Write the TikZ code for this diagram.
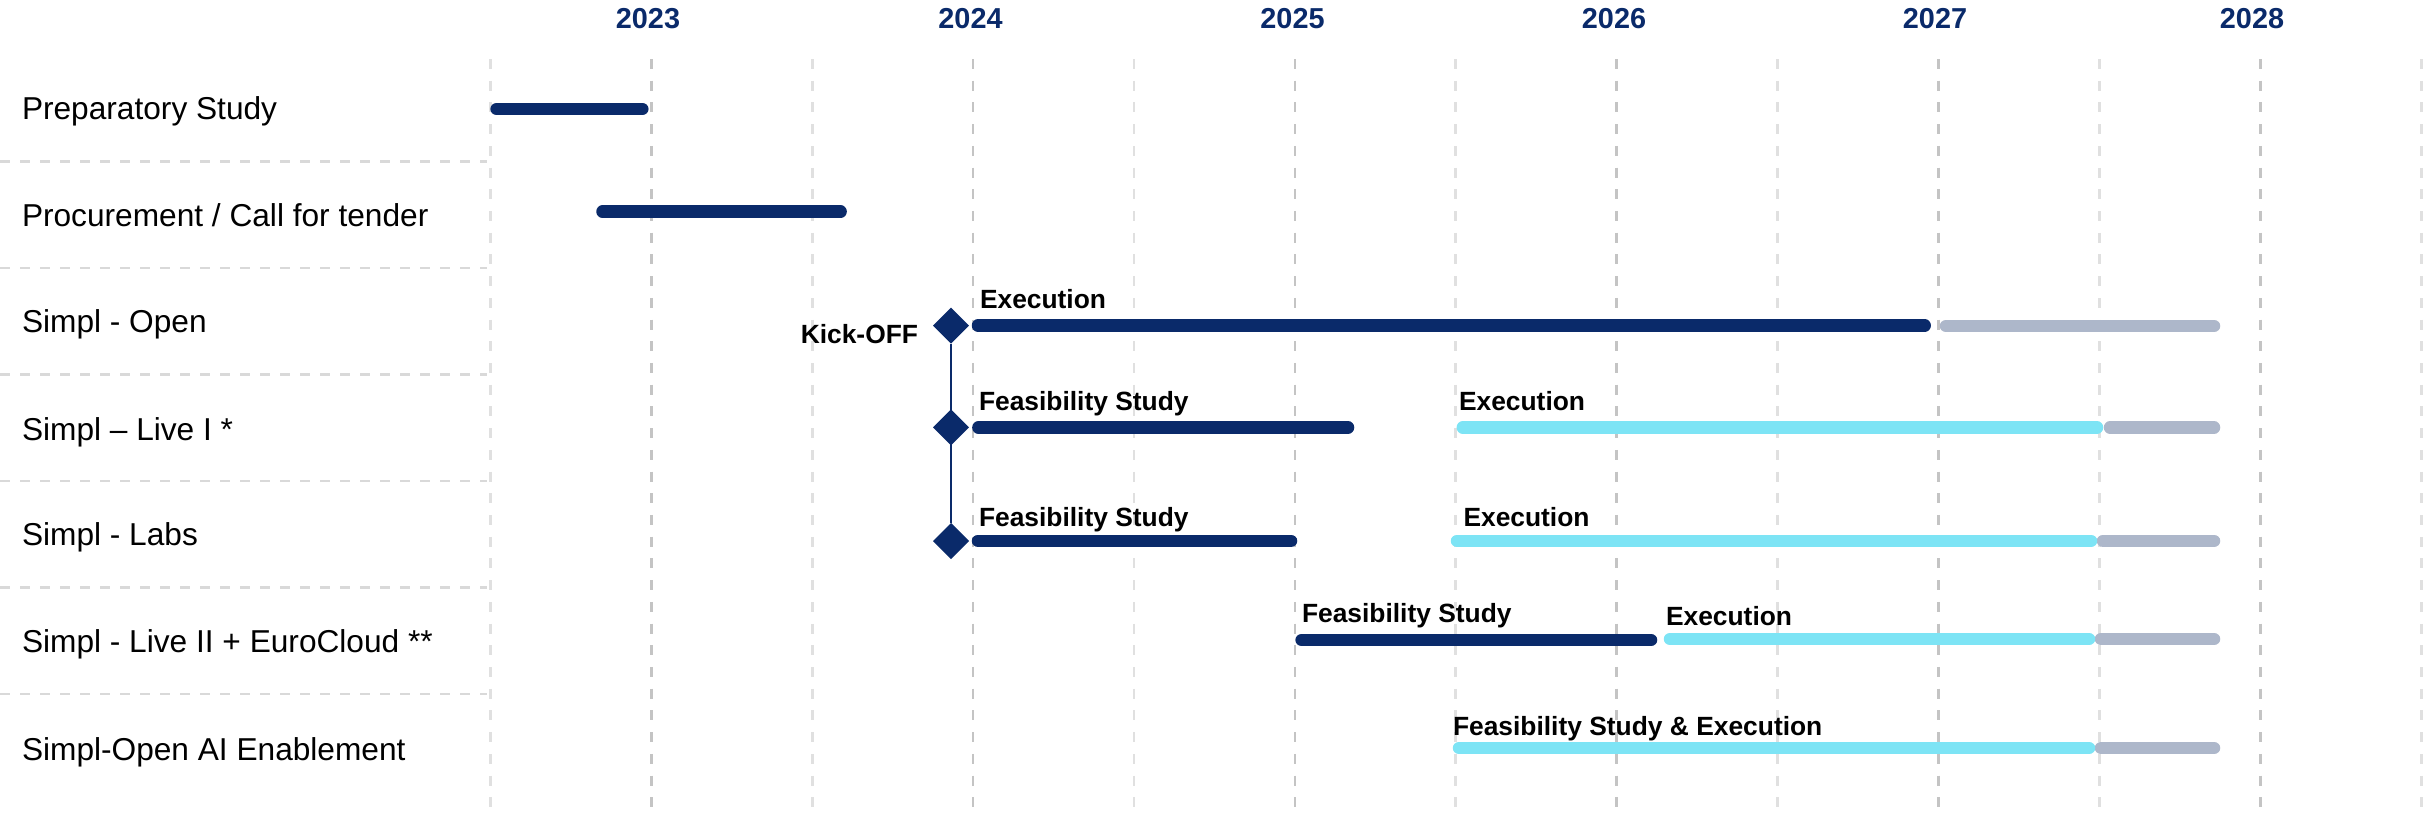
\documentclass[tikz,border=0pt]{standalone}
\usepackage{fontspec}
\setmainfont{Liberation Sans}
\usetikzlibrary{shapes.geometric}
\definecolor{barnavy}{RGB}{10,42,106}
\definecolor{barcyan}{RGB}{125,228,245}
\definecolor{bargrey}{RGB}{173,183,202}
\definecolor{gridmajor}{RGB}{196,196,196}
\definecolor{gridminor}{RGB}{224,224,224}
\definecolor{rowline}{RGB}{217,217,217}

\begin{document}
\begin{tikzpicture}[x=0.01cm, y=-0.01cm,
        every node/.style={inner sep=0pt, outer sep=0pt},
        year/.style={anchor=base, text=barnavy, font=\fontsize{8.2}{10}\selectfont\bfseries},
        task/.style={anchor=base west, font=\fontsize{9}{11}\selectfont},
        phase/.style={anchor=base west, font=\fontsize{7.5}{9}\selectfont\bfseries},
        grid/.style={line width=0.027cm, dash pattern=on 0.1cm off 0.117cm},
        rowsep/.style={rowline, line width=0.025cm, dash pattern=on 0.1cm off 0.1cm},
        bar/.style={line width=0.125cm, line cap=round},
        milestone/.style={diamond, fill=barnavy, minimum size=0.36cm}]
        \useasboundingbox (0,0) rectangle (2433,815);

        \foreach \k in {0,2,...,12}
            \draw[grid, gridminor] ({490.4+\k*160.9},59) -- ({490.4+\k*160.9},815);
        \foreach \k in {1,3,...,11}
            \draw[grid, gridmajor] ({490.4+\k*160.9},59) -- ({490.4+\k*160.9},815);
        \foreach \y in {161.7,268.2,374.7,481.2,587.7,694.2}
            \draw[rowsep] (0,\y) -- (487,\y);

        \foreach \yr/\x in {2023/648,2024/970.5,2025/1292.5,2026/1614,2027/1935,2028/2252}
            \node[year] (y\yr) at (\x,28.3) {\yr};

        \node[task] (prep) at (22,119.3) {Preparatory Study};
        \node[task] (proc) at (22,226) {Procurement / Call for tender};
        \node[task] (open) at (22,332.7) {Simpl - Open};
        \node[task] (live1) at (22,440) {Simpl – Live I *};
        \node[task] (labs) at (22,545.7) {Simpl - Labs};
        \node[task] (live2) at (22,652) {Simpl - Live II + EuroCloud **};
        \node[task] (aien) at (22,760) {Simpl-Open AI Enablement};

        \draw[bar, barnavy] (496.6,109) -- (642.3,109);
        \draw[bar, barnavy] (602.5,211.7) -- (840.6,211.7);

        \draw[bar, barnavy] (978,325.5) -- (1924.7,325.5);
        \draw[bar, bargrey] (1946,326) -- (2214,326);

        \draw[bar, bargrey] (2110,427.5) -- (2214,427.5);
        \draw[bar, barnavy] (978.4,427.5) -- (1348,427.5);
        \draw[bar, barcyan] (1462.8,427.5) -- (2097,427.5);

        \draw[bar, bargrey] (2103,540.8) -- (2214,540.8);
        \draw[bar, barnavy] (978,540.8) -- (1291,540.8);
        \draw[bar, barcyan] (1457,540.8) -- (2091,540.8);

        \draw[bar, bargrey] (2101,639) -- (2214,639);
        \draw[bar, barnavy] (1301.6,640) -- (1651,640);
        \draw[bar, barcyan] (1670,639) -- (2089,639);

        \draw[bar, bargrey] (2101,748) -- (2214,748);
        \draw[bar, barcyan] (1459,748) -- (2089,748);

        \node[milestone] (kickopen) at (951,325.7) {};
        \node[milestone] (kicklive) at (951,427.3) {};
        \node[milestone] (kicklabs) at (951,541) {};
        \draw[barnavy, line width=0.027cm] (kickopen) -- (kicklabs);
        \node[phase, anchor=base east] (kick) at (918,343) {Kick-OFF};

        \node[phase] (exopen) at (980,308) {Execution};
        \node[phase] (fslive) at (979,410.7) {Feasibility Study};
        \node[phase] (exlive) at (1459,410.7) {Execution};
        \node[phase] (fslabs) at (979,526.7) {Feasibility Study};
        \node[phase] (exlabs) at (1463.5,526.7) {Execution};
        \node[phase] (fslive2) at (1302,622.7) {Feasibility Study};
        \node[phase] (exlive2) at (1666,625) {Execution};
        \node[phase] (fsaien) at (1453,735) {Feasibility Study \& Execution};
    \end{tikzpicture}
\end{document}
